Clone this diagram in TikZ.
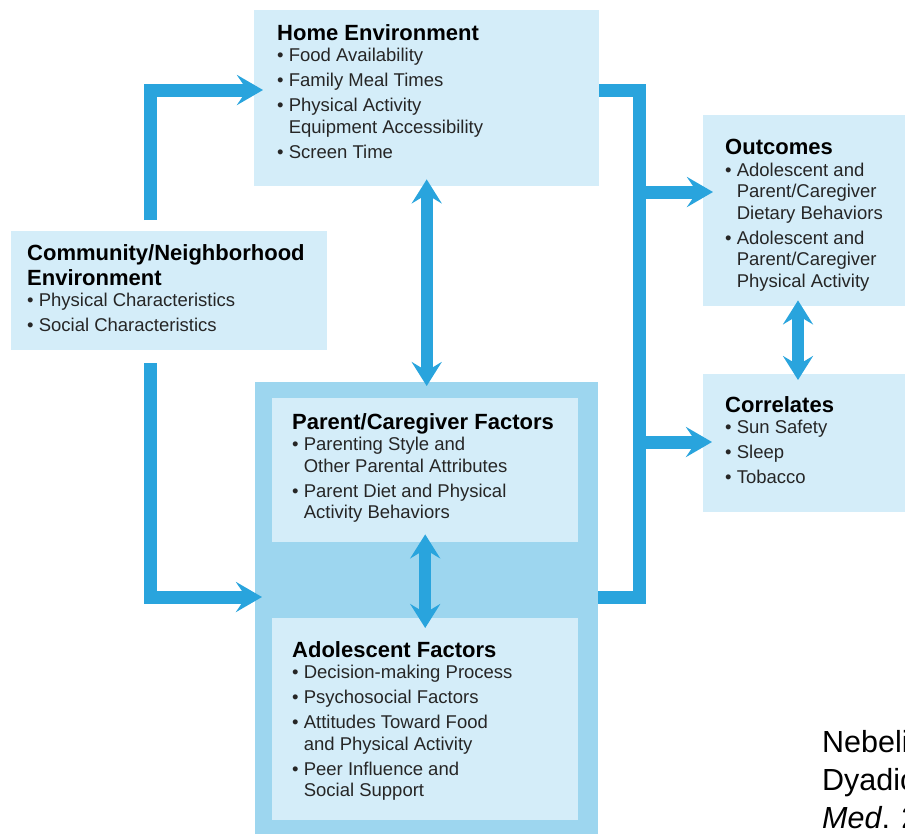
\documentclass[tikz,border=0pt]{standalone}
\usepackage{fontspec}
\setmainfont{Liberation Sans}
\usepackage{tikz}
\usetikzlibrary{positioning}
\usetikzlibrary{arrows.meta,calc}
\usepackage{color}

\definecolor{boxblue}{RGB}{212,237,249}
\definecolor{factblue}{RGB}{157,214,239}
\definecolor{arrowblue}{RGB}{41,164,221}

\newcommand{\hd}[1]{{\fontsize{22}{21.5}\selectfont\bfseries\color{black}#1}}
\newcommand{\bl}{\textbullet\ }
\newcommand{\ind}{\hphantom{\textbullet\ }}

\begin{document}
\begin{tikzpicture}
[x=1pt, y=-1pt, line join=miter,
 box/.style={fill=boxblue, anchor=north west, inner sep=0pt},
 txt/.style={anchor=north west, inner sep=0pt, align=left, text=black!85,
   font=\fontsize{18.5}{21.5}\selectfont},
 rail/.style={draw=arrowblue, line width=13pt},
 arr/.style={rail, -{Stealth[length=26pt,width=30pt,inset=10pt]}},
 dbl/.style={draw=arrowblue, line width=12pt,
   {Stealth[length=24pt,width=30pt,inset=9pt]}-{Stealth[length=24pt,width=30pt,inset=9pt]}}]

\useasboundingbox (0,0) rectangle (905,833);
\clip (0,0) rectangle (905,833);

% Boxes:
\node[box, minimum width=345pt, minimum height=176pt] (home) at (254,10) {};
\node[box, minimum width=316pt, minimum height=119pt] (comm) at (11,231) {};
\node[box, minimum width=220pt, minimum height=191pt] (outc) at (703,115) {};
\node[box, minimum width=220pt, minimum height=138pt] (corr) at (703,374) {};
\node[box, fill=factblue, minimum width=343pt, minimum height=470pt] (fact) at (255,382) {};
\node[box, minimum width=306pt, minimum height=144pt] (par) at (272,398) {};
\node[box, minimum width=306pt, minimum height=202pt] (ado) at (272,618) {};

% Texts:
\node[txt] (hometxt) at (277,24) {\hd{Home Environment}\\
  \bl Food Availability\\[3.5pt]
  \bl Family Meal Times\\[3.5pt]
  \bl Physical Activity\\
  \ind Equipment Accessibility\\[3.5pt]
  \bl Screen Time};
\node[txt] (commtxt) at (27,244) {\hd{Community/Neighborhood}\\[3.5pt]
  \hd{Environment}\\
  \bl Physical Characteristics\\[3.5pt]
  \bl Social Characteristics};
\node[txt] (outctxt) at (725,139) {\hd{Outcomes}\\
  \bl Adolescent and\\
  \ind Parent/Caregiver\\
  \ind Dietary Behaviors\\[3.5pt]
  \bl Adolescent and\\
  \ind Parent/Caregiver\\
  \ind Physical Activity};
\node[txt] (corrtxt) at (725,396) {\hd{Correlates}\\
  \bl Sun Safety\\[3.5pt]
  \bl Sleep\\[3.5pt]
  \bl Tobacco};
\node[txt] (partxt) at (292,413) {\hd{Parent/Caregiver Factors}\\
  \bl Parenting Style and\\
  \ind Other Parental Attributes\\[3.5pt]
  \bl Parent Diet and Physical\\
  \ind Activity Behaviors};
\node[txt] (adotxt) at (292,641) {\hd{Adolescent Factors}\\
  \bl Decision-making Process\\[3.5pt]
  \bl Psychosocial Factors\\[3.5pt]
  \bl Attitudes Toward Food\\
  \ind and Physical Activity\\[3.5pt]
  \bl Peer Influence and\\
  \ind Social Support};
% Citation, cut at the right edge as in the source:
\node[anchor=north west, inner sep=0pt, align=left, font=\fontsize{30.5}{38}\selectfont]
  (cite) at (822,730) {Nebeling\\Dyadic\\\textit{Med}. 2017};

% Arrows from the community box:
\draw[arr] ($(comm.north west)+(139,-11)$) |- ($(home.north west)+(9,80)$);
\draw[arr] ($(comm.south west)+(139,13)$) |- ($(fact.north west)+(7,215)$);

% Two-way arrows:
\draw[dbl] ([yshift=7pt]home.south) -- ([yshift=-4pt]fact.north);
\draw[dbl] ([yshift=8pt]par.south) -- ([yshift=-10pt]ado.north);
\draw[dbl] ($(outc.south west)+(95,-6)$) -- ($(corr.north west)+(95,6)$);

% Rail to outcomes and correlates:
\coordinate (rt) at (639,90);
\coordinate (rb) at (639,597);
\coordinate (ro) at (639,192);
\coordinate (rc) at (639,442);
\draw[rail] ($(home.north east)+(0,80)$) -- (rt) -- (rb) -- (fact.east |- rb);
\draw[arr] (ro) -- ($(ro -| outc.west)+(10,0)$);
\draw[arr] (rc) -- ($(rc -| corr.west)+(9,0)$);

\end{tikzpicture}
\end{document}
